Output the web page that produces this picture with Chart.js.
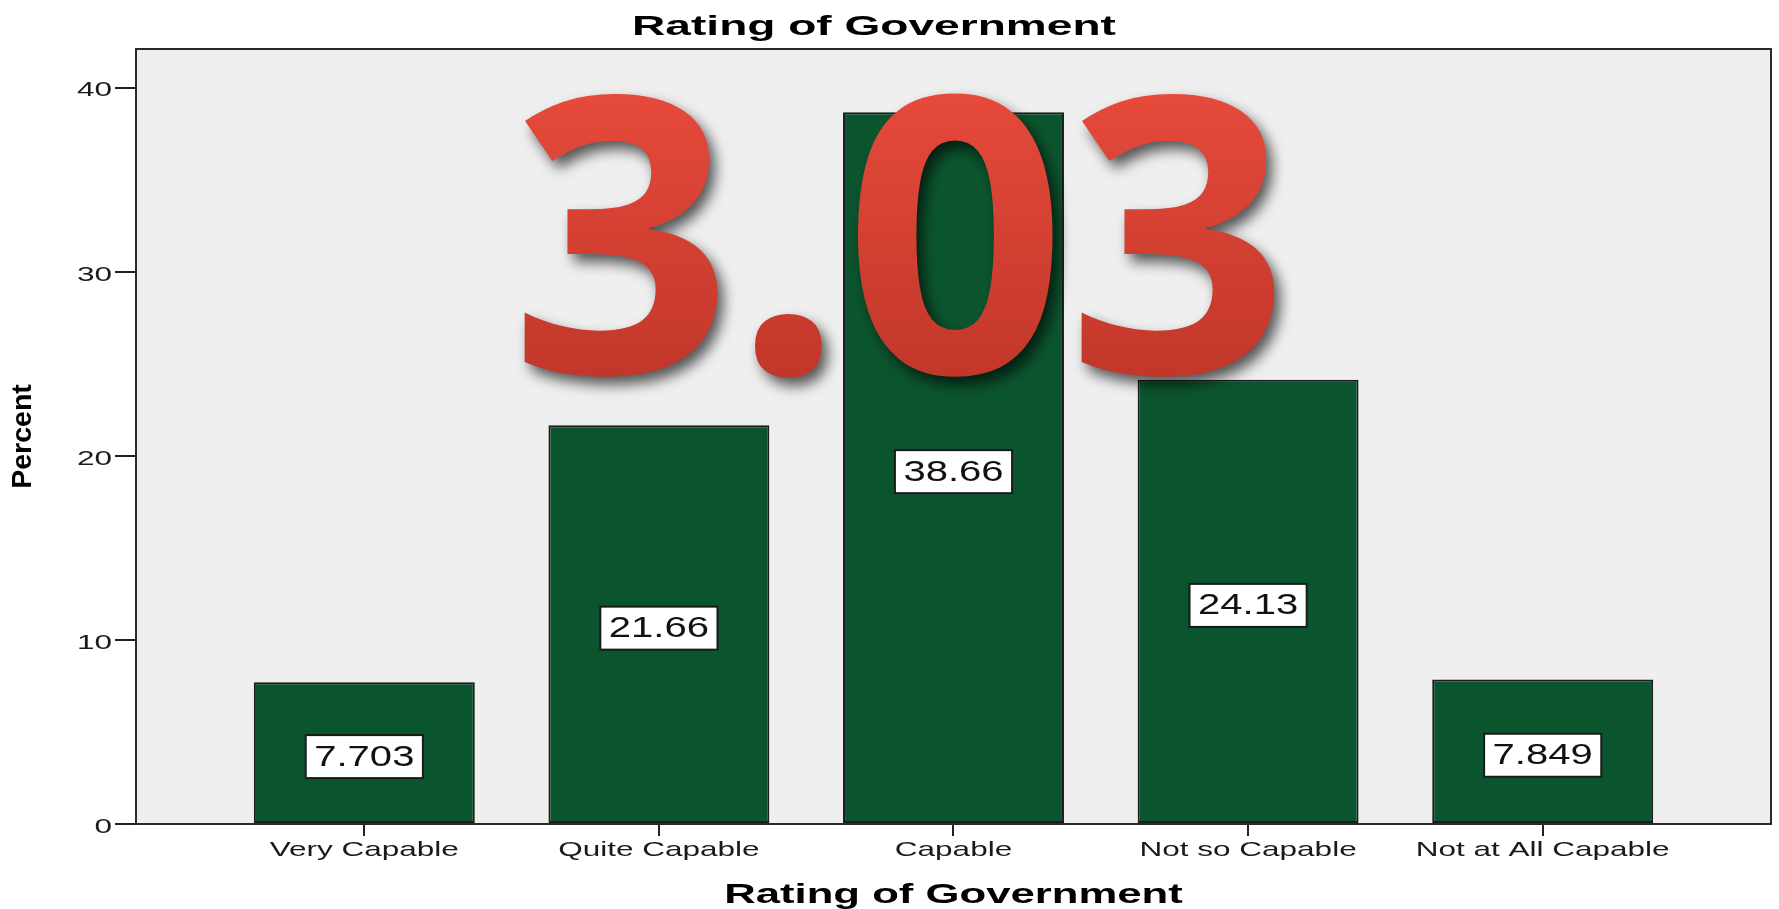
<!DOCTYPE html>
<html>
<head>
<meta charset="utf-8">
<script src="https://cdn.jsdelivr.net/npm/chart.js@4"></script>
<style>
  html, body { margin: 0; padding: 0; background: #ffffff; }
  canvas { display: block; }
</style>
</head>
<body>
<canvas id="c" width="1779" height="909"></canvas>
<script>
// ---------------- data ----------------
const categories = ['Very Capable', 'Quite Capable', 'Capable', 'Not so Capable', 'Not at All Capable'];
const percents = [7.703, 21.66, 38.66, 24.13, 7.849];
const valueLabels = ['7.703', '21.66', '38.66', '24.13', '7.849'];
const yTicks = [0, 10, 20, 30, 40];
const chartTitle = 'Rating of Government';
const xAxisTitle = 'Rating of Government';
const yAxisTitle = 'Percent';
const overlayText = '3.03';

// ---------------- text rendering (the reference text is drawn horizontally wide) ----------------
const FONT = '"Liberation Sans", Arial, Helvetica, sans-serif';
const STRETCH = { '21': 1.5, '28': 1.56, '28.1': 1.64, '29': 1.38 };
const canvas = document.getElementById('c');
const ctx0 = canvas.getContext('2d');
const P = CanvasRenderingContext2D.prototype;
function stretchOf(c) {
  const m = /(\d+(?:\.\d+)?)px/.exec(c.font);
  return (m && STRETCH[m[1]]) || 1;
}
ctx0.fillText = function (t, x, y, w) {
  const s = stretchOf(this);
  if (s === 1) {
    return w === undefined ? P.fillText.call(this, t, x, y) : P.fillText.call(this, t, x, y, w);
  }
  this.save();
  this.translate(x, y);
  this.scale(s, 1);
  if (w === undefined) P.fillText.call(this, t, 0, 0);
  else P.fillText.call(this, t, 0, 0, w / s);
  this.restore();
};
ctx0.measureText = function (t) {
  const m = P.measureText.call(this, t);
  const s = stretchOf(this);
  if (s === 1) return m;
  return {
    width: m.width * s,
    actualBoundingBoxLeft: m.actualBoundingBoxLeft * s,
    actualBoundingBoxRight: m.actualBoundingBoxRight * s,
    actualBoundingBoxAscent: m.actualBoundingBoxAscent,
    actualBoundingBoxDescent: m.actualBoundingBoxDescent,
    fontBoundingBoxAscent: m.fontBoundingBoxAscent,
    fontBoundingBoxDescent: m.fontBoundingBoxDescent
  };
};

Chart.defaults.font.family = FONT;
Chart.defaults.color = '#111';

// ---------------- decorations ----------------
const decorations = {
  id: 'decorations',
  beforeDraw(chart) {
    const { ctx, chartArea: a } = chart;
    ctx.save();
    ctx.fillStyle = '#ffffff';
    ctx.fillRect(0, 0, chart.width, chart.height);
    ctx.fillStyle = '#efefef';
    ctx.fillRect(a.left, a.top, a.right - a.left, a.bottom - a.top);
    ctx.restore();
  },
  afterDatasetsDraw(chart) {
    const { ctx, chartArea: a } = chart;
    ctx.save();
    // plot frame
    ctx.strokeStyle = '#2a2a2a';
    ctx.lineWidth = 2;
    ctx.strokeRect(a.left, a.top, a.right - a.left, a.bottom - a.top);
    // value boxes
    const meta = chart.getDatasetMeta(0);
    ctx.font = '29px ' + FONT;
    ctx.textAlign = 'center';
    ctx.textBaseline = 'middle';
    meta.data.forEach((bar, i) => {
      const txt = valueLabels[i];
      const w = ctx.measureText(txt).width + 17;
      const h = 43;
      const cx = bar.x;
      const cy = (bar.y + bar.base) / 2 + 4;
      ctx.fillStyle = '#ffffff';
      ctx.fillRect(cx - w / 2, cy - h / 2, w, h);
      ctx.strokeStyle = '#1a1a1a';
      ctx.lineWidth = 2;
      ctx.strokeRect(cx - w / 2, cy - h / 2, w, h);
      ctx.fillStyle = '#111';
      ctx.fillText(txt, cx, cy + 1);
    });
    ctx.restore();
  },
  afterDraw(chart) {
    const { ctx } = chart;
    ctx.save();
    // chart title
    ctx.font = 'bold 28.1px ' + FONT;
    ctx.fillStyle = '#000';
    ctx.textAlign = 'center';
    ctx.textBaseline = 'alphabetic';
    ctx.fillText(chartTitle, 874, 35);
    ctx.restore();

    // big overlay number
    ctx.save();
    ctx.font = '700 300px "Open Sans", "Noto Sans", sans-serif';
    ctx.textAlign = 'left';
    ctx.textBaseline = 'alphabetic';
    const m = ctx.measureText(overlayText);
    const inkW = m.actualBoundingBoxLeft + m.actualBoundingBoxRight;
    const inkH = m.actualBoundingBoxAscent + m.actualBoundingBoxDescent;
    const box = { x0: 522, y0: 90, x1: 1280, y1: 379 };
    ctx.translate(box.x0, box.y0);
    ctx.scale((box.x1 - box.x0) / inkW, (box.y1 - box.y0) / inkH);
    const g = ctx.createLinearGradient(0, 0, 0, inkH);
    g.addColorStop(0, '#e64a3b');
    g.addColorStop(1, '#c1372a');
    ctx.fillStyle = g;
    ctx.shadowColor = 'rgba(0,0,0,0.65)';
    ctx.shadowBlur = 14;
    ctx.shadowOffsetX = 6;
    ctx.shadowOffsetY = 8;
    ctx.fillText(overlayText, m.actualBoundingBoxLeft, m.actualBoundingBoxAscent);
    ctx.restore();
  }
};

// ---------------- chart ----------------
new Chart(canvas, {
  type: 'bar',
  data: {
    datasets: [{
      data: percents.map((v, i) => ({ x: i, y: v })),
      backgroundColor: '#0b552e',
      borderColor: '#1c1c1c',
      borderWidth: 2,
      borderSkipped: false,
      barPercentage: 0.75,
      categoryPercentage: 1
    }]
  },
  options: {
    responsive: false,
    animation: false,
    devicePixelRatio: 1,
    events: [],
    layout: { padding: { top: 49, right: 8, bottom: 0, left: 0 } },
    plugins: {
      legend: { display: false },
      title: { display: false },
      tooltip: { enabled: false }
    },
    scales: {
      x: {
        type: 'linear',
        min: -0.775,
        max: 4.775,
        offset: false,
        afterBuildTicks: s => { s.ticks = categories.map((c, i) => ({ value: i })); },
        afterFit: s => { s.height = 85; },
        ticks: {
          callback: v => categories[v] ?? '',
          font: { size: 21 },
          color: '#1a1a1a',
          padding: 2,
          maxRotation: 0,
          autoSkip: false
        },
        grid: { offset: false, drawOnChartArea: false, drawTicks: true, tickLength: 12, color: '#222', lineWidth: 2 },
        border: { display: false },
        title: {
          display: true,
          text: xAxisTitle,
          color: '#000',
          font: { size: 28, weight: 'bold', lineHeight: 1 },
          padding: { top: 0, bottom: 0 }
        }
      },
      y: {
        min: 0,
        max: 42.1,
        afterBuildTicks: s => { s.ticks = yTicks.map(v => ({ value: v })); },
        afterFit: s => { s.width = 136; },
        ticks: { font: { size: 21 }, color: '#1a1a1a', padding: 3, labelOffset: 3 },
        grid: { drawOnChartArea: false, drawTicks: true, tickLength: 21, color: '#222', lineWidth: 2 },
        border: { display: false },
        title: {
          display: true,
          text: yAxisTitle,
          color: '#000',
          font: { size: 28.5, weight: 'bold', lineHeight: 1 },
          padding: { top: 9, bottom: 0 }
        }
      }
    }
  },
  plugins: [decorations]
});
</script>
</body>
</html>
